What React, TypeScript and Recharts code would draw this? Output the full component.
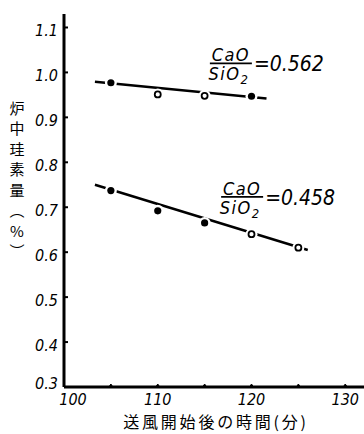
import React from 'react';
import { ComposedChart, Line, Scatter, XAxis, YAxis, Label, ReferenceDot } from 'recharts';

// measured points, minutes after blast start vs Si in hot metal (%)
const highTime = [105, 110, 115, 120];
const highSi = [0.977, 0.951, 0.948, 0.947];
const highOpen = [false, true, true, false];

const lowTime = [105, 110, 115, 120, 125];
const lowSi = [0.737, 0.692, 0.665, 0.64, 0.61];
const lowOpen = [false, false, false, true, true];

// hand drawn trend lines
const highFitTime = [103.3, 121.6];
const highFitSi = [0.979, 0.942];
const lowFitTime = [103.3, 126.0];
const lowFitSi = [0.75, 0.605];

const xTicks = [100, 105, 110, 115, 120, 125, 130];
const yTicks = [0.3, 0.4, 0.5, 0.6, 0.7, 0.8, 0.9, 1.0, 1.1];

const ratioHigh = '0.562';
const ratioLow = '0.458';
const yTitle = ['炉', '中', '珪', '素', '量', '︵', '%', '︶'];
const xTitle = '送風開始後の時間(分)';

const zip = (ts: number[], vs: number[], open?: boolean[]) =>
  ts.map((t, i) => ({ t, si: vs[i], open: open ? open[i] : false }));

const highPts = zip(highTime, highSi, highOpen);
const lowPts = zip(lowTime, lowSi, lowOpen);
const highFit = zip(highFitTime, highFitSi);
const lowFit = zip(lowFitTime, lowFitSi);

const numFont = "'Liberation Sans Narrow', 'DejaVu Sans Condensed', 'Liberation Sans', sans-serif";
const cjkFont = "'Noto Sans CJK JP', sans-serif";

const Dot = (props: any) => {
  const { cx, cy, payload } = props;
  return (
    <g>
      <circle cx={cx} cy={cy} r={6} fill="#fff" />
      {payload.open ? (
        <circle cx={cx} cy={cy} r={3} fill="#fff" stroke="#000" strokeWidth={1.8} />
      ) : (
        <circle cx={cx} cy={cy} r={3.6} fill="#000" />
      )}
    </g>
  );
};

const XTick = (props: any) => {
  const { x, y, payload } = props;
  const v = payload.value;
  return (
    <g>
      {v !== 100 && <path d={`M${x - 2},${y} L${x},${y - 3} L${x + 2},${y}`} fill="#000" stroke="#000" strokeWidth={1} />}
      {v % 10 === 0 && (
        <text x={v === 100 ? x + 9 : x} y={y + 18} textAnchor="middle" fontSize={16} fontStyle="italic" fontFamily={numFont} fill="#000">
          {v}
        </text>
      )}
    </g>
  );
};

const YTick = (props: any) => {
  const { x, y, payload } = props;
  const v = payload.value;
  return (
    <g>
      {v > 0.35 && <line x1={x} y1={y} x2={x + 4} y2={y} stroke="#000" strokeWidth={2} />}
      <text x={x - 6} y={v < 0.35 ? y + 1.5 : y + 8.5} textAnchor="end" fontSize={16} fontStyle="italic" fontFamily={numFont} fill="#000">
        {v.toFixed(1)}
      </text>
    </g>
  );
};

const fraction = (ratio: string) => (props: any) => {
  const { cx, cy } = props;
  return (
    <g fontFamily={numFont} fontStyle="italic" fill="#000">
      <text x={cx} y={cy - 2} textAnchor="middle" fontSize={18} letterSpacing={1.5}>CaO</text>
      <line x1={cx - 21} y1={cy} x2={cx + 21} y2={cy} stroke="#000" strokeWidth={1.8} />
      <text x={cx - 2} y={cy + 17} textAnchor="middle" fontSize={18} letterSpacing={1.5}>
        SiO<tspan fontSize={13} dy={4}>2</tspan>
      </text>
      <text x={cx + 23} y={cy + 8} fontSize={21}>={ratio}</text>
    </g>
  );
};

const YTitle = (props: any) => {
  const vb = props.viewBox;
  return (
    <g>
      {yTitle.map((c, i) => (
        <text key={i} x={17} y={vb.y + 93 + i * 20.5} textAnchor="middle" dominantBaseline="central" fontSize={15} fontFamily={cjkFont} fill="#000">
          {c}
        </text>
      ))}
    </g>
  );
};

const XTitle = (props: any) => {
  const vb = props.viewBox;
  return (
    <text x={vb.x + vb.width / 2 + 2} y={vb.y + 41} textAnchor="middle" fontSize={16} letterSpacing={2.8} fontFamily={cjkFont} fill="#000">
      {xTitle}
    </text>
  );
};

export default function App() {
  return (
    <div style={{ position: 'absolute', left: 0, top: 0, background: '#fff' }}>
      <ComposedChart width={364} height={434} margin={{ top: 14, right: 0, bottom: 0, left: 0 }}>
        <XAxis
          type="number"
          dataKey="t"
          domain={[100, 132]}
          ticks={xTicks}
          allowDataOverflow
          height={47}
          tickSize={0}
          tickMargin={0}
          tickLine={false}
          axisLine={{ stroke: '#000', strokeWidth: 3 }}
          tick={<XTick />}
        >
          <Label content={<XTitle />} />
        </XAxis>
        <YAxis
          type="number"
          dataKey="si"
          domain={[0.3, 1.13]}
          ticks={yTicks}
          allowDataOverflow
          width={64}
          tickSize={0}
          tickMargin={0}
          tickLine={false}
          axisLine={{ stroke: '#000', strokeWidth: 3 }}
          tick={<YTick />}
        >
          <Label content={<YTitle />} />
        </YAxis>
        <Line data={highFit} dataKey="si" stroke="#000" strokeWidth={2.5} dot={false} activeDot={false} isAnimationActive={false} />
        <Line data={lowFit} dataKey="si" stroke="#000" strokeWidth={2.5} dot={false} activeDot={false} isAnimationActive={false} />
        <Scatter data={highPts} dataKey="si" shape={<Dot />} isAnimationActive={false} />
        <Scatter data={lowPts} dataKey="si" shape={<Dot />} isAnimationActive={false} />
        <ReferenceDot x={117.8} y={1.02} r={0} shape={fraction(ratioHigh)} />
        <ReferenceDot x={119.0} y={0.723} r={0} shape={fraction(ratioLow)} />
      </ComposedChart>
    </div>
  );
}
